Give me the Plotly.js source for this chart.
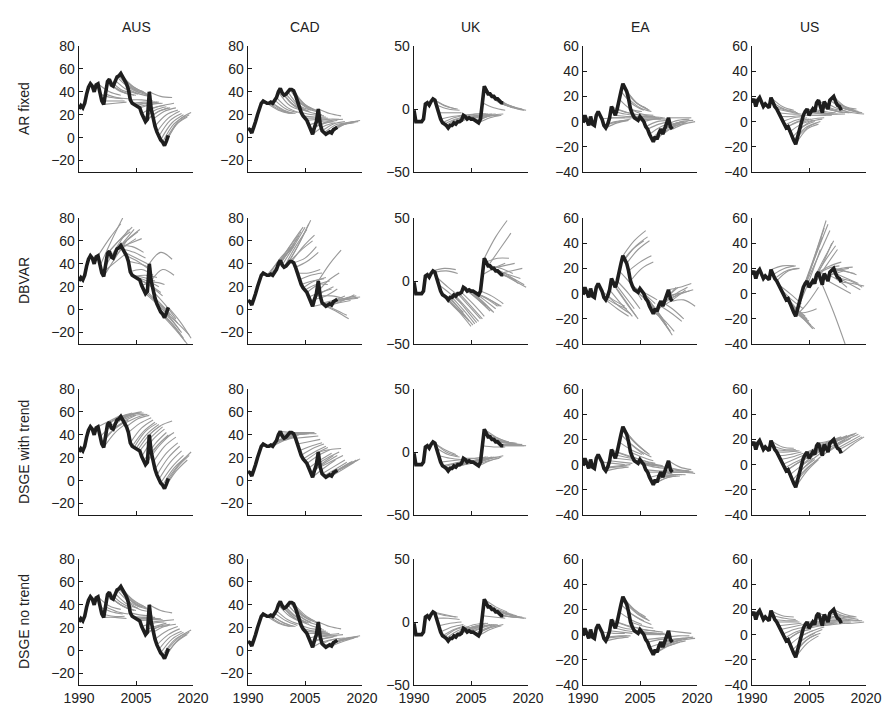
<!DOCTYPE html>
<html><head><meta charset="utf-8">
<script src="https://cdn.plot.ly/plotly-3.0.1.min.js"></script>
<style>body{margin:0;background:#fff;} #chart{width:885px;height:709px;}</style>
</head><body><div id="chart"></div>
<script>
const countries = ['AUS','CAD','UK','EA','US'];
const models = ['AR fixed','DBVAR','DSGE with trend','DSGE no trend'];
const years = [1990,1990.5,1991,1991.5,1992,1992.5,1993,1993.5,1994,1994.5,1995,1995.5,1996,1996.5,1997,1997.5,1998,1998.5,1999,1999.5,2000,2000.5,2001,2001.5,2002,2002.5,2003,2003.5,2004,2004.5,2005,2005.5,2006,2006.5,2007,2007.5,2008,2008.5,2009,2009.5,2010,2010.5,2011,2011.5,2012,2012.5,2013,2013.5];
const ausData = [25,28,26,30,38,44,47,45,40,46,47,38,32,29,38,49,51,46,45,50,53,54,56,53,50,47,42,33,30,29,28,27,26,21,17,14,16,40,25,16,10,5,1,-2,-4,-7,-3,2];
const cadData = [8,7,4,8,14,20,26,30,32,31,30,30,31,30,33,35,40,43,39,37,38,40,42,42,41,37,32,26,22,19,17,15,11,7,3,9,14,25,12,6,4,3,4,5,4,7,8,9];
const ukData = [-1,-10,-10,-10,-10,-8,4,5,3,6,8,7,3,-3,-8,-11,-12,-13,-15,-13,-13,-11,-12,-10,-10,-9,-5,-6,-8,-7,-8,-8,-9,-10,-11,-8,5,18,15,12,12,10,10,8,8,6,5,5];
const eaData = [-1,5,1,-3,4,-2,-3,5,8,5,2,-3,-5,-2,3,12,8,5,10,18,24,30,27,24,18,10,6,3,2,1,4,2,0,-4,-6,-10,-14,-16,-12,-14,-9,-6,-10,-6,-2,3,-4,-6];
const usData = [15,18,12,17,19,15,12,14,12,11,19,15,12,10,7,4,0,-3,-5,-4,-8,-13,-15,-18,-12,-6,-1,5,8,10,5,7,10,8,15,17,12,7,16,12,10,17,19,20,16,13,12,9];

// forecast origins (years); each forecast gives values 3 and 6 years ahead
const fcOrigins = [1995,1995.5,1996,1996.5,1997,1997.5,1998,1998.5,1999,1999.5,2000,2000.5,2001,2001.5,2002,2002.5,2003,2003.5,2004,2004.5,2005,2005.5,2006,2006.5,2007,2007.5,2008,2008.5,2009,2009.5,2010,2010.5,2011,2011.5,2012,2012.5,2013,2013.5];
const fcHorizons = [3,6];

const ausAR = [[40,37],[35,34],[32,32],[30,31],[35,34],[41,38],[42,39],[40,37],[39,37],[42,38],[44,39],[44,40],[45,40],[44,39],[42,38],[40,37],[38,36],[33,32],[31,31],[30,31],[30,31],[29,30],[29,30],[26,28],[24,27],[22,26],[23,26],[36,35],[28,30],[23,26],[20,24],[17,23],[15,21],[13,20],[12,19],[11,18],[13,20],[16,22]];
const cadAR = [[24,21],[24,21],[24,21],[24,21],[25,22],[26,22],[28,24],[30,25],[28,24],[27,23],[28,23],[28,24],[30,25],[30,24],[29,24],[27,23],[25,22],[22,20],[20,19],[18,18],[17,17],[16,16],[14,15],[12,14],[10,13],[13,15],[16,16],[21,19],[15,16],[12,14],[11,13],[10,13],[11,13],[11,13],[11,13],[12,14],[13,14],[13,15]];
const ukAR = [[3,0],[2,0],[0,-1],[-3,-3],[-6,-5],[-7,-5],[-8,-6],[-8,-6],[-9,-7],[-8,-6],[-8,-6],[-7,-5],[-8,-6],[-6,-5],[-7,-5],[-6,-5],[-4,-4],[-4,-4],[-6,-5],[-5,-4],[-6,-5],[-5,-4],[-6,-5],[-6,-5],[-7,-5],[-5,-4],[1,-1],[8,3],[6,2],[5,2],[5,1],[4,1],[4,1],[3,0],[3,0],[2,0],[1,-1],[1,-1]];
const eaAR = [[3,3],[0,1],[-1,1],[0,2],[3,3],[8,6],[6,5],[4,4],[7,5],[10,8],[14,9],[16,11],[15,10],[14,9],[11,8],[6,5],[5,4],[3,3],[3,3],[2,2],[4,3],[2,3],[2,2],[0,1],[-2,0],[-4,-1],[-6,-2],[-6,-3],[-5,-1],[-6,-2],[-3,0],[-2,0],[-4,-1],[-2,0],[1,2],[3,3],[0,1],[-2,0]];
const usAR = [[12,9],[10,8],[9,7],[8,6],[6,6],[4,5],[3,4],[1,3],[0,2],[0,2],[-2,1],[-4,0],[-5,-1],[-6,-2],[-4,0],[0,2],[2,3],[5,5],[7,6],[8,6],[5,5],[6,6],[8,7],[6,6],[10,8],[11,9],[9,7],[6,6],[11,8],[8,7],[8,7],[11,9],[12,9],[12,10],[11,8],[9,7],[9,7],[7,6]];

const ausDBVAR = [[62,75],[60,80],[40,48],[45,60],[55,70],[60,68],[62,72],[58,70],[55,62],[60,68],[62,70],[58,62],[55,50],[50,45],[45,40],[42,35],[40,36],[35,30],[28,25],[30,28],[25,20],[22,15],[20,12],[24,22],[8,0],[5,-5],[5,-5],[50,44],[35,30],[5,-8],[0,-12],[-5,-18],[-8,-20],[-12,-25],[-15,-28],[-18,-30],[-12,-22],[-10,-25]];
const cadDBVAR = [[42,52],[45,55],[44,55],[45,58],[48,62],[50,65],[55,68],[58,72],[55,72],[55,70],[55,75],[58,78],[52,60],[55,65],[45,55],[42,50],[32,35],[30,32],[25,27],[25,28],[22,22],[22,25],[15,18],[15,20],[5,8],[12,18],[25,32],[40,52],[12,10],[8,12],[0,-5],[-2,-8],[6,8],[8,10],[8,13],[10,12],[9,10],[10,11]];
const ukDBVAR = [[10,9],[8,6],[-5,-12],[-10,-18],[-16,-25],[-20,-28],[-22,-30],[-22,-32],[-25,-36],[-24,-35],[-23,-34],[-22,-33],[-22,-32],[-20,-30],[-20,-30],[-18,-28],[-12,-20],[-14,-22],[-15,-24],[-15,-24],[-16,-25],[-15,-22],[-14,-20],[-14,-20],[-15,-20],[-12,-18],[10,14],[35,48],[18,18],[25,38],[10,6],[12,14],[6,0],[4,-2],[5,2],[8,10],[2,-3],[0,-5]];
const eaDBVAR = [[-5,-10],[-8,-12],[-12,-18],[-10,-16],[-8,-18],[0,-12],[-5,-18],[-8,-20],[0,-12],[8,-5],[35,42],[42,50],[38,45],[35,42],[25,30],[20,25],[0,-8],[0,-5],[-6,-15],[-8,-18],[-8,-20],[-10,-22],[-12,-25],[-15,-28],[-18,-30],[-20,-33],[-20,-30],[-5,5],[-3,5],[-5,0],[-15,-22],[-12,-20],[-4,3],[0,5],[0,2],[5,8],[0,3],[-5,-10]];
const usDBVAR = [[22,22],[20,22],[18,20],[18,20],[0,-8],[-5,-12],[-10,-18],[-12,-20],[-15,-22],[-15,-25],[-18,-28],[-20,-28],[-15,-12],[-8,5],[10,35],[20,45],[25,52],[30,58],[32,55],[30,50],[20,40],[25,42],[25,38],[22,35],[20,22],[22,25],[15,18],[-15,-40],[12,5],[18,20],[5,0],[20,21],[18,16],[18,15],[12,8],[8,3],[10,5],[8,6]];

const ausDSGEt = [[52,57],[48,55],[44,51],[42,50],[47,53],[55,58],[56,59],[54,58],[52,57],[56,59],[57,59],[58,60],[58,59],[57,58],[55,58],[54,57],[50,55],[46,53],[43,51],[43,50],[41,49],[40,48],[38,47],[36,45],[32,42],[30,40],[30,40],[48,52],[35,42],[30,38],[24,33],[20,30],[16,26],[12,22],[11,20],[8,18],[12,22],[15,25]];
const cadDSGEt = [[35,38],[35,38],[35,38],[35,38],[37,39],[38,40],[41,42],[42,42],[40,41],[40,41],[40,41],[41,42],[42,42],[42,42],[41,41],[38,39],[34,36],[30,33],[28,32],[25,30],[24,29],[22,27],[18,24],[15,22],[11,18],[16,22],[20,25],[27,28],[17,22],[12,18],[10,16],[9,15],[10,16],[11,17],[10,16],[12,18],[13,18],[14,19]];
const ukDSGEt = [[2,-2],[0,-3],[-2,-4],[-5,-6],[-7,-6],[-9,-7],[-9,-7],[-10,-8],[-11,-9],[-10,-8],[-10,-8],[-9,-7],[-9,-7],[-8,-6],[-8,-6],[-7,-5],[-5,-4],[-5,-4],[-6,-5],[-6,-4],[-6,-4],[-6,-4],[-6,-4],[-7,-5],[-7,-4],[-5,-3],[4,4],[12,8],[11,8],[9,7],[9,7],[8,7],[8,7],[7,6],[7,6],[6,6],[5,5],[5,5]];
const eaDSGEt = [[1,0],[-2,-1],[-3,-2],[-1,0],[2,1],[8,5],[6,4],[4,3],[7,4],[12,8],[15,8],[18,10],[17,9],[15,8],[11,6],[6,3],[3,1],[1,0],[0,-1],[0,-1],[1,-1],[0,-2],[-2,-3],[-5,-5],[-6,-6],[-8,-7],[-10,-9],[-11,-9],[-9,-8],[-10,-9],[-8,-8],[-6,-6],[-8,-8],[-6,-6],[-4,-5],[-2,-4],[-5,-6],[-6,-7]];
const usDSGEt = [[14,13],[12,12],[11,11],[10,11],[8,10],[6,9],[4,8],[2,6],[1,6],[2,7],[-1,5],[-3,4],[-4,3],[-5,4],[-2,6],[3,10],[7,13],[10,15],[13,17],[14,18],[11,17],[13,18],[15,19],[14,19],[18,21],[19,22],[17,21],[14,20],[19,23],[17,22],[16,21],[20,24],[21,24],[22,25],[20,24],[18,23],[17,22],[16,22]];

const ausDSGEn = [[39,36],[34,32],[30,30],[29,28],[34,32],[41,36],[42,37],[39,35],[38,35],[41,37],[43,38],[44,38],[45,39],[43,38],[41,37],[39,36],[36,34],[31,30],[29,29],[29,28],[28,28],[27,28],[27,27],[24,25],[21,24],[20,22],[21,23],[35,33],[26,27],[21,23],[17,21],[14,19],[12,17],[10,16],[9,15],[7,14],[9,16],[12,18]];
const cadDSGEn = [[24,21],[24,21],[25,21],[24,21],[26,22],[27,23],[30,25],[32,26],[29,25],[28,24],[29,24],[30,25],[31,26],[31,26],[31,25],[28,24],[25,22],[22,19],[19,18],[17,17],[16,16],[15,15],[13,13],[10,12],[8,10],[11,13],[14,15],[21,19],[13,14],[10,11],[8,11],[8,10],[8,11],[9,11],[8,11],[10,12],[11,12],[11,13]];
const ukDSGEn = [[6,4],[5,4],[3,2],[-1,0],[-4,-2],[-6,-3],[-6,-4],[-7,-4],[-8,-5],[-7,-4],[-7,-4],[-6,-3],[-6,-4],[-5,-3],[-5,-3],[-5,-2],[-2,-1],[-3,-1],[-4,-2],[-4,-2],[-4,-2],[-4,-2],[-5,-2],[-5,-3],[-6,-3],[-4,-2],[4,3],[12,8],[10,7],[8,6],[8,6],[7,5],[7,5],[6,4],[6,4],[4,4],[4,3],[4,3]];
const eaDSGEn = [[1,1],[-2,-1],[-3,-2],[-1,-1],[2,1],[8,5],[5,4],[3,2],[7,5],[12,8],[16,11],[20,14],[18,12],[16,11],[12,8],[7,5],[4,3],[2,1],[1,1],[1,0],[3,2],[1,1],[0,0],[-3,-2],[-4,-3],[-7,-5],[-9,-6],[-10,-7],[-8,-5],[-9,-6],[-6,-4],[-4,-3],[-7,-5],[-4,-3],[-1,-1],[2,1],[-3,-2],[-4,-3]];
const usDSGEn = [[15,14],[13,12],[11,11],[10,10],[8,9],[6,8],[4,6],[2,5],[1,4],[2,4],[-1,3],[-4,1],[-5,0],[-7,-1],[-3,1],[0,4],[3,6],[7,8],[9,9],[10,10],[7,8],[8,9],[10,10],[9,9],[13,12],[14,13],[11,11],[8,9],[14,12],[11,11],[10,10],[14,13],[15,14],[16,14],[14,12],[12,11],[11,11],[9,10]];

const yRanges = [[-30,80],[-30,80],[-50,50],[-40,60],[-40,60]];
const yTicks = [[-20,0,20,40,60,80],[-20,0,20,40,60,80],[-50,0,50],[-40,-20,0,20,40,60],[-40,-20,0,20,40,60]];
const xTicks = [1990,2005,2020];

const series = [ausData,cadData,ukData,eaData,usData];
const fcTable = [
  [ausAR,cadAR,ukAR,eaAR,usAR],
  [ausDBVAR,cadDBVAR,ukDBVAR,eaDBVAR,usDBVAR],
  [ausDSGEt,cadDSGEt,ukDSGEt,eaDSGEt,usDSGEt],
  [ausDSGEn,cadDSGEn,ukDSGEn,eaDSGEn,usDSGEn]
];

// layout geometry (pixels)
const W = 885, H = 709;
const colX = [[79,193],[248,362],[414,528],[583,697],[752,866]];
const rowY = [[46,172],[218,344],[389,515],[559,685]];

const traces = [];
const layout = {
  width: W, height: H, showlegend: false,
  margin: {l:0,r:0,t:0,b:0},
  paper_bgcolor: '#fff', plot_bgcolor: '#fff',
  font: {family: 'Liberation Sans, Arial, sans-serif', size: 14, color: '#222'},
  annotations: []
};

for (let r = 0; r < 4; r++) {
  for (let c = 0; c < 5; c++) {
    const i = r*5 + c + 1;
    const xa = 'x' + i, ya = 'y' + i;
    const data = series[c];
    const fc = fcTable[r][c];
    const gx = [], gy = [];
    fcOrigins.forEach((o, k) => {
      const idx = years.indexOf(o);
      gx.push(o); gy.push(data[idx]);
      fcHorizons.forEach((h, j) => { gx.push(o + h); gy.push(fc[k][j]); });
      gx.push(null); gy.push(null);
    });
    traces.push({x: gx, y: gy, xaxis: xa, yaxis: ya, type: 'scatter', mode: 'lines',
      line: {color: '#999999', width: 1.1, shape: 'spline', smoothing: 1}, hoverinfo: 'skip'});
    traces.push({x: years, y: data, xaxis: xa, yaxis: ya, type: 'scatter', mode: 'lines',
      line: {color: '#1e1e1e', width: 3.6}, hoverinfo: 'skip'});
    const sfx = i === 1 ? '' : i;
    layout['xaxis' + sfx] = {
      domain: [colX[c][0]/W, colX[c][1]/W], anchor: ya, range: [1990, 2020],
      tickvals: xTicks, ticktext: xTicks.map(String), showticklabels: r === 3,
      ticks: 'inside', ticklen: 4, tickcolor: '#1a1a1a', showline: true, linecolor: '#1a1a1a', linewidth: 1.3,
      showgrid: false, zeroline: false, tickfont: {size: 14, color: '#222'}
    };
    layout['yaxis' + sfx] = {
      domain: [1 - rowY[r][1]/H, 1 - rowY[r][0]/H], anchor: xa, range: yRanges[c],
      tickvals: yTicks[c], ticks: 'inside', ticklen: 4, tickcolor: '#1a1a1a',
      showline: true, linecolor: '#1a1a1a', linewidth: 1.3, showgrid: false, zeroline: false,
      tickfont: {size: 14, color: '#222'}
    };
  }
}
countries.forEach((name, c) => {
  layout.annotations.push({text: name, xref: 'paper', yref: 'paper', showarrow: false,
    x: (colX[c][0] + colX[c][1]) / 2 / W, y: 1 - 27/H, xanchor: 'center', yanchor: 'middle',
    font: {size: 14, color: '#222'}});
});
models.forEach((name, r) => {
  layout.annotations.push({text: name, xref: 'paper', yref: 'paper', showarrow: false,
    x: 24/W, y: 1 - (rowY[r][0] + rowY[r][1]) / 2 / H, xanchor: 'center', yanchor: 'middle',
    textangle: -90, font: {size: 14, color: '#222'}});
});
Plotly.newPlot('chart', traces, layout, {staticPlot: true});
</script></body></html>
